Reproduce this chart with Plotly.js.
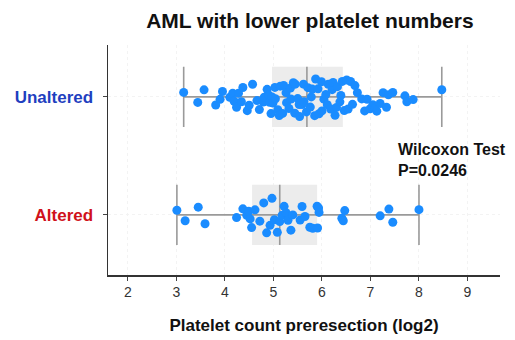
<!DOCTYPE html>
<html>
<head>
<meta charset="utf-8">
<script src="https://cdn.plot.ly/plotly-3.0.1.min.js"></script>
<style>html,body{margin:0;padding:0;background:#fff}#chart{width:515px;height:340px}</style>
</head>
<body>
<div id="chart"></div>
<script>
// Groups (bottom to top)
var categories = ['Altered', 'Unaltered'];
var labelColors = ['#d0121b', '#1f3fbf'];

// Platelet count preresection (log2)
var unalteredValues = [3.15, 3.44, 3.57, 3.81, 3.90, 3.95, 4.10, 4.16, 4.19, 4.24, 4.28, 4.34, 4.37, 4.46, 4.50, 4.57, 4.66, 4.71, 4.79, 4.81, 4.87, 4.90, 4.92, 4.95, 4.97,
  4.99, 5.03, 5.04, 5.09, 5.12, 5.14, 5.19, 5.21, 5.26, 5.27, 5.32, 5.35, 5.36, 5.41, 5.44, 5.45, 5.50, 5.53, 5.54, 5.59, 5.62, 5.63, 5.68,
  5.71, 5.76, 5.78, 5.80, 5.85, 5.87, 5.92, 5.94, 5.99, 6.00, 6.04, 6.08, 6.11, 6.13, 6.18, 6.21, 6.23, 6.27, 6.30, 6.32, 6.37, 6.39, 6.42,
  6.46, 6.51, 6.54, 6.59, 6.63, 6.68, 6.73, 6.82, 6.88, 6.93, 6.99, 7.05, 7.09, 7.13, 7.20, 7.26, 7.33, 7.37, 7.46, 7.71, 7.75, 7.88, 8.47];
var alteredValues = [3.01, 3.18, 3.45, 3.59, 4.24, 4.37, 4.45, 4.49, 4.52, 4.55, 4.62, 4.72, 4.80, 4.86, 4.93, 4.97, 5.02, 5.08, 5.13, 5.18, 5.22,
  5.26, 5.30, 5.36, 5.40, 5.55, 5.59, 5.65, 5.75, 5.81, 5.90, 5.91, 5.93, 5.94, 6.41, 6.44, 6.47, 7.20, 7.38, 7.46, 8.00];

// Box statistics: [Altered, Unaltered]
var q1 = [4.56, 4.97];
var medians = [5.13, 5.69];
var q3 = [5.90, 6.43];
var minimums = [3.01, 3.15];
var maximums = [8.00, 8.47];

var xTicks = [2, 3, 4, 5, 6, 7, 8, 9];
var pValueText = 'Wilcoxon Test<br>P=0.0246';

var FONT = 'Liberation Sans, Arial, sans-serif';
var BOXW = 0.51;

var traces = [];
// gray IQR rectangle
traces.push({
  type: 'bar', orientation: 'h', y: categories,
  base: q1, x: q3.map(function (v, i) { return v - q1[i]; }),
  width: BOXW, marker: { color: '#ececec', line: { width: 0 } },
  hoverinfo: 'skip', showlegend: false
});
// whiskers with caps + median line
traces.push({
  type: 'box', orientation: 'h', y: categories,
  q1: medians, median: medians, q3: medians,
  lowerfence: minimums, upperfence: maximums,
  width: BOXW, whiskerwidth: 1,
  line: { color: '#9a9a9a', width: 1.6 }, fillcolor: 'rgba(0,0,0,0)',
  hoverinfo: 'skip', showlegend: false
});
// jittered points
var pointSets = [alteredValues, unalteredValues];
pointSets.forEach(function (vals, i) {
  traces.push({
    type: 'box', orientation: 'h', x: vals, y0: categories[i],
    boxpoints: 'all', jitter: 0.7, pointpos: 0, width: BOXW,
    line: { width: 0, color: 'rgba(0,0,0,0)' }, fillcolor: 'rgba(0,0,0,0)',
    marker: { color: '#1a8cff', size: 9, opacity: 1 },
    hoverinfo: 'skip', showlegend: false
  });
});

var layout = {
  width: 515, height: 340,
  margin: { l: 108, r: 15, t: 45, b: 65 },
  paper_bgcolor: '#ffffff', plot_bgcolor: '#ffffff',
  font: { family: FONT, color: '#222' },
  showlegend: false,
  boxmode: 'overlay', barmode: 'overlay',
  title: {
    text: '<b>AML with lower platelet numbers</b>',
    font: { family: FONT, size: 21, color: '#111' },
    xref: 'paper', x: 0.515, xanchor: 'center',
    yref: 'container', y: 0.94, yanchor: 'middle'
  },
  xaxis: {
    range: [1.59, 9.67], tickvals: xTicks, ticktext: xTicks.map(String),
    ticks: 'outside', ticklen: 4, tickcolor: '#444', tickwidth: 1,
    showline: true, linecolor: '#333', linewidth: 1.5,
    showgrid: true, gridcolor: '#f3f3f3', gridwidth: 1, griddash: 'dot',
    zeroline: false,
    tickfont: { family: FONT, size: 14, color: '#333' },
    title: { text: '<b>Platelet count preresection (log2)</b>', font: { family: FONT, size: 17, color: '#111' }, standoff: 20 }
  },
  yaxis: {
    type: 'category', categoryorder: 'array', categoryarray: categories,
    range: [-0.51, 1.44],
    tickmode: 'array', tickvals: categories,
    ticktext: categories.map(function (c, i) { return '<span style="color:' + labelColors[i] + '"><b>' + c + '</b></span>'; }),
    ticks: 'outside', ticklen: 4, tickcolor: '#444',
    ticklabelstandoff: 6,
    showline: true, linecolor: '#333', linewidth: 1.5,
    showgrid: true, gridcolor: '#f3f3f3', griddash: 'dot',
    zeroline: false,
    tickfont: { family: FONT, size: 17 }
  },
  annotations: [{
    xref: 'paper', yref: 'paper', x: 0.735, y: 0.50, xanchor: 'left', yanchor: 'middle',
    align: 'left', showarrow: false,
    text: '<b>' + pValueText + '</b>',
    font: { family: FONT, size: 16, color: '#111' }
  }]
};

Plotly.newPlot('chart', traces, layout, { staticPlot: true, displayModeBar: false });
</script>
</body>
</html>
